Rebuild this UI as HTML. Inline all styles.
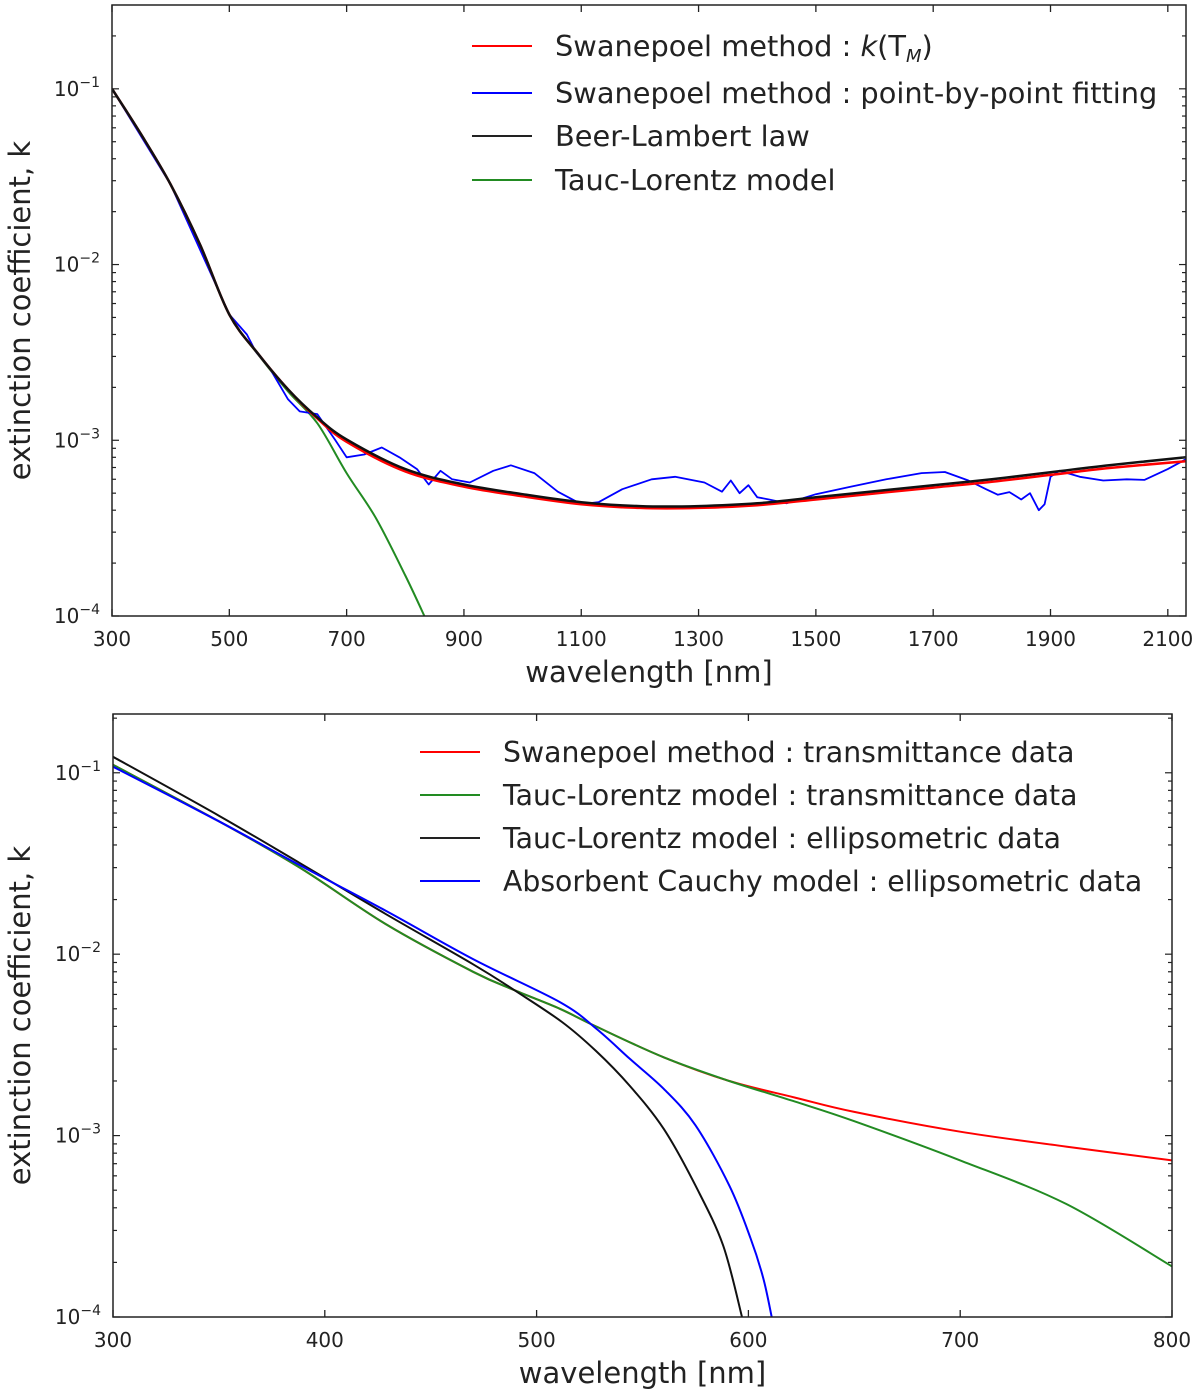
<!DOCTYPE html>
<html><head><meta charset="utf-8"><style>
body{margin:0;background:#fff;}
svg{display:block;font-family:"DejaVu Sans","Liberation Sans",sans-serif;}
</style></head><body>
<svg id="fig" width="1200" height="1396" viewBox="0 0 1200 1396"></svg>
<script>
// ---- Top panel data ----
const topBeerNm = [300,350,400,450,500,550,600,650,700,800,900,1000,1100,1200,1300,1400,1500,1600,1700,1800,1900,2000,2131];
const topBeerK = [0.1,0.0548,0.0285,0.0130,0.0052,0.00308,0.00195,0.00135,0.00101,6.85e-4,5.6e-4,4.93e-4,4.44e-4,4.22e-4,4.22e-4,4.38e-4,4.74e-4,5.13e-4,5.55e-4,6.0e-4,6.58e-4,7.21e-4,8.0e-4];
const topRedNm = [300,350,400,450,500,550,600,650,700,800,900,1000,1100,1200,1300,1400,1500,1600,1700,1800,1900,2000,2131];
const topRedK = [0.1,0.0548,0.0285,0.0130,0.0052,0.00308,0.00195,0.00133,0.00098,6.65e-4,5.45e-4,4.8e-4,4.33e-4,4.12e-4,4.12e-4,4.27e-4,4.6e-4,4.98e-4,5.38e-4,5.8e-4,6.35e-4,6.95e-4,7.6e-4];
const topGreenNm = [300,350,400,450,500,550,600,650,700,750,800,835];
const topGreenK = [0.1,0.0548,0.0285,0.0128,0.0052,0.00305,0.0019,0.00125,6.5e-4,3.6e-4,1.7e-4,9.6e-5];
const topBlueNm = [300,400,500,530,545,570,600,620,650,680,700,730,760,790,820,840,860,880,910,950,980,1020,1060,1100,1130,1170,1220,1260,1310,1340,1355,1370,1385,1400,1420,1450,1500,1560,1620,1680,1720,1760,1790,1810,1830,1850,1865,1880,1890,1900,1915,1950,1990,2030,2060,2100,2131];
const topBlueK = [0.1,0.0285,0.0052,4.0e-3,3.2e-3,2.53e-3,1.71e-3,1.46e-3,1.41e-3,1.01e-3,8.0e-4,8.3e-4,9.1e-4,8.0e-4,6.85e-4,5.6e-4,6.7e-4,6.0e-4,5.75e-4,6.7e-4,7.2e-4,6.5e-4,5.1e-4,4.33e-4,4.45e-4,5.27e-4,6.0e-4,6.2e-4,5.75e-4,5.1e-4,5.9e-4,5.0e-4,5.55e-4,4.74e-4,4.6e-4,4.38e-4,4.93e-4,5.45e-4,6.0e-4,6.5e-4,6.6e-4,5.9e-4,5.27e-4,4.9e-4,5.07e-4,4.6e-4,5.0e-4,4.0e-4,4.33e-4,6.2e-4,6.7e-4,6.2e-4,5.9e-4,6.0e-4,5.95e-4,6.85e-4,7.8e-4];
const topXTicks = [300,500,700,900,1100,1300,1500,1700,1900,2100];
// ---- Bottom panel data ----
const botNm = [300,350,388,429,470,490,511,528,560,591,622,650,700,750,800];
const botRedK = [0.1106,0.054,0.0301,0.0146,8.0e-3,6.3e-3,5.0e-3,4.0e-3,2.7e-3,2.0e-3,1.62e-3,1.35e-3,1.05e-3,8.7e-4,7.3e-4];
const botGreenK = [0.1106,0.054,0.0301,0.0146,8.0e-3,6.3e-3,5.0e-3,4.0e-3,2.7e-3,2.0e-3,1.54e-3,1.2e-3,7.3e-4,4.2e-4,1.9e-4];
const botBlackNm = [300,350,388,429,470,490,512,528,544,560,575,588,597];
const botBlackK = [0.1225,0.058,0.0319,0.0166,8.8e-3,6.28e-3,4.23e-3,2.93e-3,1.88e-3,1.09e-3,5.3e-4,2.49e-4,1e-4];
const botBlueNm = [300,350,388,429,470,511,528,544,560,575,591,601,607,611];
const botBlueK = [0.108,0.054,0.031,0.0173,9.4e-3,5.44e-3,3.9e-3,2.65e-3,1.81e-3,1.14e-3,5.3e-4,2.72e-4,1.64e-4,1e-4];
const botXTicks = [300,400,500,600,700,800];
const yDecades = [-1,-2,-3,-4];

const NS="http://www.w3.org/2000/svg";
const svg=document.getElementById('fig');
function mk(tag,attrs,parent){const e=document.createElementNS(NS,tag);for(const k in attrs)e.setAttribute(k,attrs[k]);(parent||svg).appendChild(e);return e;}
function smoothPath(pts){
  let d='M'+pts[0][0].toFixed(1)+','+pts[0][1].toFixed(1);
  for(let i=0;i<pts.length-1;i++){
    const p0=pts[Math.max(0,i-1)],p1=pts[i],p2=pts[i+1],p3=pts[Math.min(pts.length-1,i+2)];
    const c1=[p1[0]+(p2[0]-p0[0])/6,p1[1]+(p2[1]-p0[1])/6];
    const c2=[p2[0]-(p3[0]-p1[0])/6,p2[1]-(p3[1]-p1[1])/6];
    d+='C'+c1[0].toFixed(1)+','+c1[1].toFixed(1)+' '+c2[0].toFixed(1)+','+c2[1].toFixed(1)+' '+p2[0].toFixed(1)+','+p2[1].toFixed(1);
  }
  return d;
}

function panel(cfg){
  const g=mk('g',{});
  
  
  const {L,R,T,B,x0,x1,lt,lb}=cfg;
  const sx=v=>L+(v-x0)/(x1-x0)*(R-L);
  const sy=k=>T+(lt-Math.log10(k))/(lt-lb)*(B-T);
  const clip='c'+cfg.name;
  const cp=mk('clipPath',{id:clip},g);mk('rect',{x:L,y:T,width:R-L,height:B-T},cp);
  cfg.series.forEach(s=>{
    const pts=s.nm.map((v,i)=>[sx(v),sy(s.k[i])]);
    const d=s.linear?pts.map((p,i)=>(i?'L':'M')+p[0].toFixed(1)+','+p[1].toFixed(1)).join(''):smoothPath(pts);
    const p=mk('path',{d:d,fill:'none',stroke:s.color,'stroke-width':s.w||2,'stroke-linejoin':'round','clip-path':'url(#'+clip+')'},g);
    
    
  });
  const fr=mk('rect',{x:L,y:T,width:R-L,height:B-T,fill:'none',stroke:'#222','stroke-width':1.5},g);
  
  
  cfg.xt.forEach(v=>{
    const x=sx(v);
    mk('line',{x1:x,x2:x,y1:B,y2:B-7,stroke:'#222','stroke-width':1.3},g);
    mk('line',{x1:x,x2:x,y1:T,y2:T+7,stroke:'#222','stroke-width':1.3},g);
    const t=mk('text',{x:x,y:B+30,'text-anchor':'middle','font-size':20,fill:'#222'},g);
    t.textContent=v;
    
    
  });
  for(let d=Math.floor(lb);d<=Math.ceil(lt);d++){
    for(let m=1;m<10;m++){
      const lv=d+Math.log10(m);
      if(lv<lb-1e-9||lv>lt)continue;
      const y=sy(Math.pow(10,lv));const len=m===1?7:4;
      mk('line',{x1:L,x2:L+len,y1:y,y2:y,stroke:'#222','stroke-width':1.2},g);
      mk('line',{x1:R,x2:R-len,y1:y,y2:y,stroke:'#222','stroke-width':1.2},g);
    }
  }
  yDecades.forEach(d=>{
    const y=sy(Math.pow(10,d));
    const t=mk('text',{x:L-12,y:y+7,'text-anchor':'end','font-size':20,fill:'#222'},g);
    
    
    t.appendChild(document.createTextNode('10'));
    const s=mk('tspan',{dy:-9,'font-size':14},t);s.textContent='\u2212'+(-d);
  });
  const xl=mk('text',{x:(L+R)/2,y:B+66,'text-anchor':'middle','font-size':29,fill:'#222'},g);
  xl.textContent='wavelength [nm]';
  
  
  const yc=(T+B)/2;
  const yl=mk('text',{x:30,y:yc,'text-anchor':'middle','font-size':29,fill:'#222',transform:'rotate(-90 30 '+yc+')'},g);
  yl.textContent='extinction coefficient, k';
  
  
  cfg.legend.forEach((e,i)=>{
    const y=cfg.legY[i];
    const lg=mk('g',{},g);
    
    
    mk('line',{x1:cfg.legX,x2:cfg.legX+60,y1:y,y2:y,stroke:e.c,'stroke-width':2},lg);
    const t=mk('text',{x:cfg.legX+83,y:y+10,'font-size':cfg.legFs,fill:'#222'},lg);
    t.innerHTML=e.t;
  });
}

panel({name:'top-panel',L:112,R:1186,T:5,B:616,x0:300,x1:2131,lt:-0.523,lb:-4,
  xt:topXTicks,legX:472,legY:[46,93,136,180],legFs:28.8,
  series:[
    {id:'green-tauc-lorentz',nm:topGreenNm,k:topGreenK,color:'#228b22'},
    {id:'blue-point-by-point',nm:topBlueNm,k:topBlueK,color:'#0000ff',w:1.8,linear:true},
    {id:'red-swanepoel-k',nm:topRedNm,k:topRedK,color:'#ff0000',w:2.5},
    {id:'black-beer-lambert',nm:topBeerNm,k:topBeerK,color:'#111',w:2.5}],
  legend:[{c:'#ff0000',t:'Swanepoel method : <tspan font-style="italic">k</tspan>(T<tspan font-size="18" dy="6" font-style="italic">M</tspan><tspan dy="-6">)</tspan>'},
    {c:'#0000ff',t:'Swanepoel method : point-by-point fitting'},
    {c:'#222',t:'Beer-Lambert law'},
    {c:'#228b22',t:'Tauc-Lorentz model'}]});

panel({name:'bottom-panel',L:113,R:1172,T:714,B:1317,x0:300,x1:800,lt:-0.676,lb:-4,
  xt:botXTicks,legX:420,legY:[752,795,838,881],legFs:28.3,
  series:[
    {id:'red-swanepoel',nm:botNm,k:botRedK,color:'#ff0000'},
    {id:'green-tauc-transmittance',nm:botNm,k:botGreenK,color:'#228b22'},
    {id:'black-tauc-ellipsometric',nm:botBlackNm,k:botBlackK,color:'#111'},
    {id:'blue-cauchy-ellipsometric',nm:botBlueNm,k:botBlueK,color:'#0000ff'}],
  legend:[{c:'#ff0000',t:'Swanepoel method : transmittance data'},
    {c:'#228b22',t:'Tauc-Lorentz model : transmittance data'},
    {c:'#222',t:'Tauc-Lorentz model : ellipsometric data'},
    {c:'#0000ff',t:'Absorbent Cauchy model : ellipsometric data'}]});
</script>
</body></html>
